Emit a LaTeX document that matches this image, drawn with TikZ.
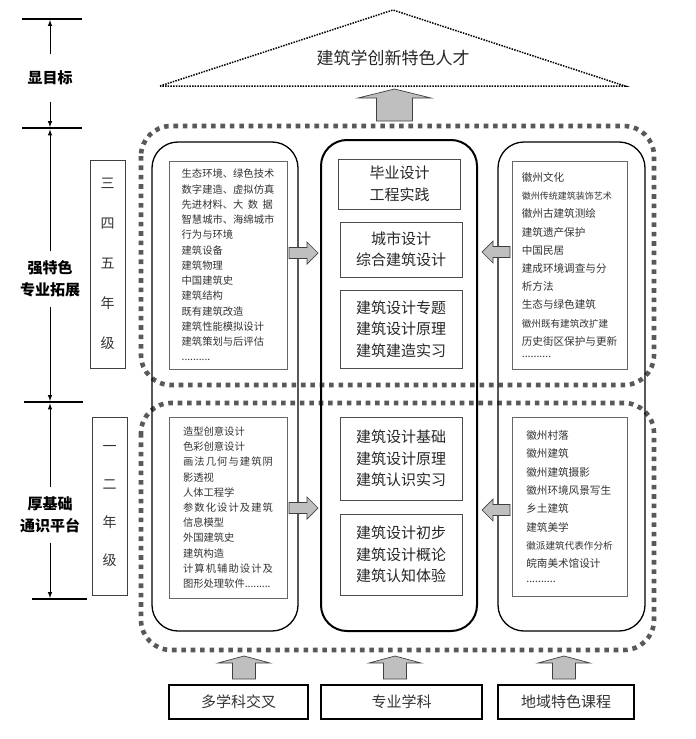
\documentclass[tikz,border=0pt]{standalone}
\usepackage{fontspec}
\setmainfont{Noto Sans CJK SC}
\usepackage{tikz}
\usetikzlibrary{positioning}
\XeTeXlinebreaklocale "zh"
\XeTeXlinebreakskip = 0pt plus 2pt

\begin{document}
\begin{tikzpicture}[x=1pt,y=-1pt]
        \tikzstyle{dotframe}=[draw=black!65,line width=4.6pt,dash pattern=on 4.6pt off 4.8pt,rounded corners=30pt]
        \tikzstyle{yearcol}=[draw,line width=1.3pt,rounded corners=26pt]
        \tikzstyle{listbox}=[draw=black!60,line width=0.9pt,text=black!80,align=left]
        \tikzstyle{coursebox}=[draw=black!70,line width=1pt,minimum width=122pt,align=center,text=black!85,font=\fontsize{15}{21.5}\selectfont]
        \tikzstyle{sourcebox}=[draw,line width=2.4pt,minimum height=34pt,text=black!80,font=\fontsize{15}{18}\selectfont]
        \tikzstyle{gradebox}=[draw=black!75,line width=0.9pt,minimum width=35pt,align=center,text=black!80]
        \tikzstyle{sidelabel}=[align=center,inner sep=9pt,font=\fontsize{15}{22.5}\selectfont\bfseries]
        \tikzstyle{fatarrow}=[fill=black!25,draw=black!75,line width=0.7pt]
        \tikzstyle{levelline}=[line width=1.6pt]
        \useasboundingbox (0,0) rectangle (696,739);

        % goal
        \draw[line width=1.5pt,dash pattern=on 1.5pt off 1.2pt] (160,86) -- (393,10) -- (625,86) -- cycle;
        \node[font=\fontsize{17}{20}\selectfont,text=black!85] (goal) at (393,58) {建筑学创新特色人才};

        % stages
        \draw[dotframe] (141,126) rectangle (654,385);
        \draw[dotframe] (141,403) rectangle (654,650);

        % columns
        \node[yearcol,minimum width=146pt,minimum height=489pt] (colL) at (225,386.5) {};
        \node[yearcol,line width=2pt,minimum width=156pt,minimum height=491pt] (colC) at (399,385.5) {};
        \node[yearcol,minimum width=147pt,minimum height=489pt] (colR) at (571.5,386.5) {};

        \node[coursebox,minimum height=50pt] (grad) at (399.5,184) {毕业设计\\工程实践};
        \node[coursebox,minimum height=55pt] (urban) at (401,249.5) {城市设计\\综合建筑设计};
        \node[coursebox,minimum height=78pt] (topic) at (401,329) {建筑设计专题\\建筑设计原理\\建筑建造实习};
        \node[coursebox,minimum height=83pt] (basic) at (401,458.5) {建筑设计基础\\建筑设计原理\\建筑认识实习};
        \node[coursebox,minimum height=81pt] (intro) at (401,554.5) {建筑设计初步\\建筑设计概论\\建筑认知体验};

        \node[listbox,minimum width=118pt,minimum height=208pt,font=\fontsize{10.3}{15.25}\selectfont] (techL) at (228,265)
        {生态环境、绿色技术\\数字建造、虚拟仿真\\先进材料、大\hspace{4.5pt}数\hspace{4.5pt}据\\智慧城市、海绵城市\\行为与环境\\建筑设备\\建筑物理\\中国建筑史\\建筑结构\\既有建筑改造\\建筑性能模拟设计\\建筑策划与后评估\\..........};
        \node[listbox,align=justify,text width=90pt,minimum width=118pt,minimum height=181pt,font=\fontsize{10.3}{15.2}\selectfont] (techB) at (228,507.5)
        {造型创意设计\\色彩创意设计\\画法几何与建筑阴影透视\\人体工程学\\参数化设计及建筑信息模型\\外国建筑史\\建筑构造\\计算机辅助设计及图形处理软件.........};
        \node[listbox,minimum width=115pt,minimum height=208pt,font=\fontsize{10.6}{18.2}\selectfont] (localU) at (569.5,265)
        {徽州文化\\{\fontsize{9}{18.2}\selectfont 徽州传统建筑装饰艺术}\\徽州古建筑测绘\\建筑遗产保护\\中国民居\\建成环境调查与分\\析方法\\生态与绿色建筑\\{\fontsize{9.6}{18.2}\selectfont 徽州既有建筑改扩建}\\历史街区保护与更新\\[-6pt]..........};
        \node[listbox,minimum width=115pt,minimum height=179pt,font=\fontsize{10.6}{18.3}\selectfont] (localB) at (569.5,506.5)
        {徽州村落\\徽州建筑\\徽州建筑摄影\\徽州环境风景写生\\乡土建筑\\建筑美学\\{\fontsize{9.6}{18.3}\selectfont 徽派建筑代表作分析}\\皖南美术馆设计\\[-4pt]..........};

        % grades
        \node[gradebox,minimum height=208pt,font=\fontsize{14}{40}\selectfont] (upper) at (107.5,264) {三\\四\\五\\年\\级};
        \node[gradebox,minimum height=178pt,font=\fontsize{14}{38}\selectfont] (lower) at (109.5,506) {一\\二\\年\\级};

        % sources
        \node[sourcebox,minimum width=139pt] (multi) at (238.5,702) {多学科交叉};
        \node[sourcebox,minimum width=161pt] (major) at (401.5,702) {专业学科};
        \node[sourcebox,minimum width=136pt] (local) at (566,702) {地域特色课程};

        % fat arrows
        \draw[fatarrow] (376.5,121) -- (376.5,98) -- (358,98) -- (394.5,89) -- (431,98) -- (412.5,98) -- (412.5,121) -- cycle;
        \foreach \x in {244,395,564}
            \draw[fatarrow] (\x-11.5,679) -- (\x-11.5,663) -- (\x-26,663) -- (\x,656) -- (\x+26,663) -- (\x+11.5,663) -- (\x+11.5,679) -- cycle;
        \foreach \y in {253,508}
            \draw[fatarrow] (289,\y-5.5) -- (307,\y-5.5) -- (307,\y-11) -- (318,\y) -- (307,\y+11) -- (307,\y+5.5) -- (289,\y+5.5) -- cycle;
        \foreach \y in {252,510}
            \draw[fatarrow] (510,\y-5.5) -- (493,\y-5.5) -- (493,\y-11) -- (482,\y) -- (493,\y+11) -- (493,\y+5.5) -- (510,\y+5.5) -- cycle;

        % side scale
        \draw[levelline] (22,19) -- (82,19);
        \draw[levelline] (22,128) -- (82,128);
        \draw[levelline] (24,402) -- (83,402);
        \draw[levelline] (32,599) -- (87,599);
        \coordinate (t0) at (50,20);
        \coordinate (t1) at (50,127);
        \coordinate (t2) at (50,129.5);
        \coordinate (t3) at (50,401);
        \coordinate (t4) at (50,403.5);
        \coordinate (t5) at (50,598);
        \node[sidelabel,inner ysep=17pt] (aim) at (50,78) {显目标};
        \node[sidelabel] (spec) at (50,279) {强特色\\专业拓展};
        \node[sidelabel] (base) at (50,515) {厚基础\\通识平台};
        \path[-latex,line width=1pt]
        (aim) edge (t0)
        (aim) edge (t1)
        (spec) edge (t2)
        (spec) edge (t3)
        (base) edge (t4)
        (base) edge (t5);
\end{tikzpicture}
\end{document}
